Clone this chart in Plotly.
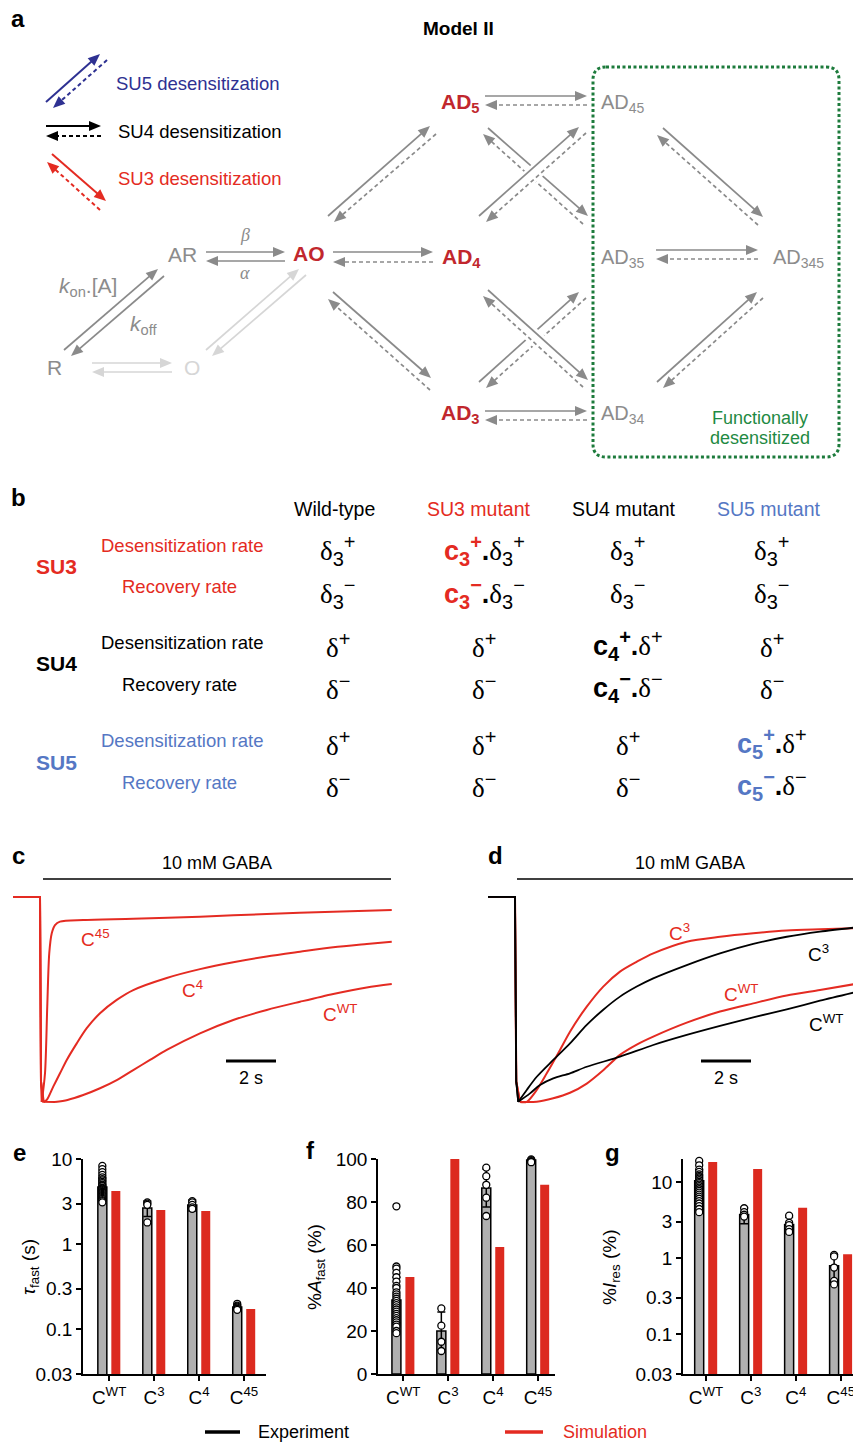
import math
import numpy as np
import plotly.graph_objects as go

W, H = 853, 1443
SANS = "Liberation Sans"
SERIF = "Liberation Serif"

# ---------------- data ----------------
# panel c : simulated currents (time s, normalized current)
c45_t = [-1.08, 0.0, 0.04, 0.07, 0.2, 0.29, 0.37, 0.47, 0.6, 0.8, 1.73, 3.73, 6.4, 9.07, 11.73, 14.07]
c45_v = [0, 0, -0.9, -1.0, -0.86, -0.535, -0.275, -0.177, -0.137, -0.12, -0.112, -0.106, -0.096, -0.083, -0.072, -0.063]
c4_t = [-1.08, 0.0, 0.04, 0.15, 0.27, 0.53, 0.8, 1.07, 1.47, 1.87, 2.4, 3.07, 3.73, 5.07, 6.4, 7.73, 9.07, 10.4, 11.73, 13.07, 14.07]
c4_v = [0, 0, -0.9, -1.0, -0.99, -0.925, -0.86, -0.795, -0.714, -0.64, -0.567, -0.502, -0.454, -0.395, -0.352, -0.318, -0.29, -0.267, -0.245, -0.229, -0.218]
cwt_t = [-1.08, 0.0, 0.04, 0.13, 0.6, 1.1, 1.73, 2.4, 3.07, 3.73, 4.4, 5.07, 6.4, 7.73, 9.07, 10.4, 11.73, 13.07, 14.07]
cwt_v = [0, 0, -0.9, -0.999, -1.0, -0.99, -0.966, -0.933, -0.893, -0.844, -0.795, -0.746, -0.665, -0.6, -0.551, -0.511, -0.473, -0.441, -0.424]

# panel d : simulation (red) vs experiment (black)
d_sim3_t = [-1.08, 0.0, 0.05, 0.2, 0.47, 0.87, 1.27, 1.8, 2.2, 2.87, 3.53, 4.2, 4.87, 5.53, 6.87, 8.2, 9.53, 10.87, 12.2, 13.53]
d_sim3_v = [0, 0, -0.9, -1.0, -0.999, -0.941, -0.86, -0.746, -0.657, -0.535, -0.437, -0.364, -0.316, -0.275, -0.218, -0.194, -0.177, -0.164, -0.158, -0.153]
d_simwt_t = [-1.08, 0.0, 0.05, 0.2, 0.87, 1.53, 2.2, 2.87, 3.53, 4.2, 4.87, 5.53, 6.87, 8.2, 9.53, 10.87, 12.2, 13.53]
d_simwt_v = [0, 0, -0.9, -1.0, -0.999, -0.982, -0.955, -0.91, -0.845, -0.77, -0.72, -0.681, -0.613, -0.559, -0.519, -0.481, -0.454, -0.426]
d_exp3_t = [-1.08, 0.0, 0.05, 0.13, 0.47, 0.87, 1.53, 2.2, 2.87, 3.53, 4.2, 4.87, 5.53, 6.87, 8.2, 9.53, 10.87, 12.2, 13.53]
d_exp3_v = [0, 0, -0.9, -0.999, -0.941, -0.877, -0.795, -0.714, -0.624, -0.55, -0.486, -0.437, -0.397, -0.332, -0.275, -0.229, -0.194, -0.169, -0.150]
d_expwt_t = [-1.08, 0.0, 0.05, 0.13, 0.6, 1.0, 1.53, 2.2, 2.87, 4.2, 5.53, 6.87, 8.2, 9.53, 10.87, 12.2, 13.53]
d_expwt_v = [0, 0, -0.9, -0.999, -0.958, -0.917, -0.885, -0.860, -0.828, -0.779, -0.722, -0.673, -0.629, -0.587, -0.548, -0.506, -0.467]

# bar panels
constructs = ["C<sup>WT</sup>", "C<sup>3</sup>", "C<sup>4</sup>", "C<sup>45</sup>"]

tau_exp = [4.7, 2.66, 2.88, 0.183]
tau_err = [1.3, 0.55, 0.42, 0.012]
tau_sim = [4.2, 2.52, 2.45, 0.174]
tau_pts = [
    [8.3, 7.6, 7.0, 6.5, 6.1, 5.8, 5.6, 5.4, 5.2, 5.0, 4.9, 4.8, 4.6, 4.5, 4.4, 4.3, 4.2, 4.1, 4.0, 3.9, 3.8, 3.7, 3.6, 3.5, 3.4, 3.3, 3.2, 3.1],
    [3.1, 3.0, 2.9, 1.8],
    [3.2, 3.1, 2.9, 2.7, 2.6],
    [0.2, 0.19, 0.185, 0.18, 0.175, 0.17],
]

afast_exp = [34.4, 20.0, 86.5, 99.5]
afast_err = [10.6, 8.8, 8.8, 0.4]
afast_sim = [45.1, 100.0, 59.1, 88.0]
afast_pts = [
    [78, 50, 49, 47, 45, 43, 41, 40, 38, 37, 36, 35, 34, 33, 32, 31, 30, 29, 28, 27, 26, 25, 24, 23, 22, 20, 19],
    [30.5, 22.5, 15, 10.7],
    [96, 92, 88, 82, 73.5],
    [99.8, 99.5, 99, 98.7, 98.5],
]

ires_exp = [10.3, 3.72, 2.75, 0.79]
ires_err = [4.0, 0.9, 0.65, 0.31]
ires_sim = [18.2, 14.8, 4.58, 1.12]
ires_pts = [
    [18.8, 16.5, 14.5, 13.5, 12.5, 12, 11.5, 11, 10.5, 10, 9.6, 9.2, 8.8, 8.4, 8, 7.6, 7.2, 6.8, 6.4, 6, 5.6, 5.2, 4.8, 4.4, 4.0],
    [4.5, 4.0, 3.7, 3.5],
    [3.6, 2.9, 2.7, 2.4, 2.2],
    [1.1, 1.05, 0.75, 0.5, 0.45],
]

# table (panel b)
col_headers = ["Wild-type", "SU3 mutant", "SU4 mutant", "SU5 mutant"]
subunits = ["SU3", "SU4", "SU5"]
rate_labels = ["Desensitization rate", "Recovery rate"]

# ---------------- styles ----------------
RED = "#e42b22"
BARRED = "#dc2a1f"
NRED = "#c1272d"
DBLUE = "#2e3192"
LBLUE = "#5577c4"
GREEN = "#1d7b3c"
GRAY = "#8a8a8a"
TGRAY = "#8c8c8c"
LGRAY = "#d6d6d6"

shapes = []
annots = []


def txt(x, y, text, size, color="black", anchor="center", family=SANS, angle=0, yanchor="middle"):
    annots.append(dict(x=x, y=y, xref="x", yref="y", text=text, showarrow=False,
                       font=dict(size=size, color=color, family=family),
                       xanchor=anchor, yanchor=yanchor, textangle=angle))


def line(x0, y0, x1, y1, color, width=1.7, dash="solid"):
    shapes.append(dict(type="line", x0=x0, y0=y0, x1=x1, y1=y1, xref="x", yref="y",
                       line=dict(color=color, width=width, dash=dash)))


def arrow(x0, y0, x1, y1, style, color, width=1.7, L=12, hw=5):
    dx, dy = x1 - x0, y1 - y0
    n = math.hypot(dx, dy)
    ux, uy = dx / n, dy / n
    bx, by = x1 - L * ux, y1 - L * uy
    px, py = -uy, ux
    dash = "solid" if style == "solid" else "4px,3px"
    line(x0, y0, bx + ux, by + uy, color, width, dash)
    path = (f"M{x1:.2f},{y1:.2f} L{bx + hw * px:.2f},{by + hw * py:.2f} "
            f"L{bx - hw * px:.2f},{by - hw * py:.2f} Z")
    shapes.append(dict(type="path", path=path, xref="x", yref="y",
                       fillcolor=color, line=dict(width=0)))


def halo(ax0, ay0, ax1, ay1, f0=0.33, f1=0.67, width=16):
    line(ax0 + (ax1 - ax0) * f0, ay0 + (ay1 - ay0) * f0,
         ax0 + (ax1 - ax0) * f1, ay0 + (ay1 - ay0) * f1, "white", width)


# ---------------- panel a ----------------
txt(18, 18, "<b>a</b>", 24)
txt(458, 28, "<b>Model II</b>", 19)

# legend arrows
arrow(46, 102, 100, 54, "solid", DBLUE, 2)
arrow(107, 60, 53, 108, "dash", DBLUE, 2)
arrow(46, 126, 101, 126, "solid", "black", 2)
arrow(101, 136, 46, 136, "dash", "black", 2)
arrow(52, 154, 106, 201, "solid", RED, 2)
arrow(100, 210, 47, 162, "dash", RED, 2)
txt(114, 83, "SU5 desensitization", 18.5, DBLUE, "left")
txt(116, 131, "SU4 desensitization", 18.5, "black", "left")
txt(116, 178, "SU3 desensitization", 18.5, RED, "left")

# green box
x0b, x1b, y0b, y1b, r = 593, 839, 67, 457, 13
shapes.append(dict(type="path", xref="x", yref="y",
                   path=(f"M{x0b + r},{y0b} L{x1b - r},{y0b} Q{x1b},{y0b} {x1b},{y0b + r} "
                         f"L{x1b},{y1b - r} Q{x1b},{y1b} {x1b - r},{y1b} L{x0b + r},{y1b} "
                         f"Q{x0b},{y1b} {x0b},{y1b - r} L{x0b},{y0b + r} Q{x0b},{y0b} {x0b + r},{y0b} Z"),
                   line=dict(color=GREEN, width=3, dash="3px,2.5px")))
txt(760, 418, "Functionally", 18, "#1f8a43")
txt(760, 438, "desensitized", 18, "#1f8a43")

# scheme arrows
arrow(64, 350, 158, 269, "solid", GRAY)
arrow(164, 276, 71, 356, "solid", GRAY)
arrow(206, 252, 285, 252, "solid", GRAY)
arrow(285, 261, 206, 261, "solid", GRAY)
arrow(92, 363, 172, 363, "solid", LGRAY)
arrow(172, 372, 92, 372, "solid", LGRAY)
arrow(206, 350, 299, 269, "solid", LGRAY)
arrow(306, 275, 212, 356, "solid", LGRAY)
arrow(333, 252, 433, 252, "solid", GRAY)
arrow(433, 262, 333, 262, "dash", GRAY)
arrow(328, 216, 430, 126, "solid", GRAY)
arrow(436, 134, 334, 222, "dash", GRAY)
arrow(333, 292, 431, 378, "solid", GRAY)
arrow(430, 390, 328, 299, "dash", GRAY)
arrow(485, 96, 587, 96, "solid", GRAY)
arrow(587, 105, 485, 105, "dash", GRAY)
arrow(485, 411, 587, 411, "solid", GRAY)
arrow(587, 420, 485, 420, "dash", GRAY)
# broken crossing arrows
arrow(488, 128, 588, 216, "solid", GRAY)
arrow(583, 224, 483, 134, "dash", GRAY)
arrow(479, 382, 579, 292, "solid", GRAY)
arrow(586, 298, 486, 388, "dash", GRAY)
halo(482.5, 219, 582.5, 130)
halo(485.5, 293, 585.5, 383.5)
# continuous crossing arrows
arrow(479, 216, 579, 127, "solid", GRAY)
arrow(586, 133, 486, 222, "dash", GRAY)
arrow(488, 290, 588, 380, "solid", GRAY)
arrow(583, 387, 483, 296, "dash", GRAY)
# inside the box
arrow(656, 250, 758, 250, "solid", GRAY)
arrow(758, 259, 656, 259, "dash", GRAY)
arrow(663, 128, 763, 217, "solid", GRAY)
arrow(758, 225, 657, 135, "dash", GRAY)
arrow(657, 382, 757, 292, "solid", GRAY)
arrow(763, 298, 663, 388, "dash", GRAY)

# states
txt(54, 367, "R", 21, TGRAY)
txt(192, 367, "O", 21, LGRAY)
txt(182, 254, "AR", 21, TGRAY)
txt(309, 253, "<b>AO</b>", 21, NRED)
txt(461, 258, "<b>AD<sub>4</sub></b>", 21, NRED)
txt(460, 103, "<b>AD<sub>5</sub></b>", 21, NRED)
txt(460, 414, "<b>AD<sub>3</sub></b>", 21, NRED)
txt(623, 103, "AD<sub>45</sub>", 20, TGRAY)
txt(623, 258, "AD<sub>35</sub>", 20, TGRAY)
txt(623, 414, "AD<sub>34</sub>", 20, TGRAY)
txt(798, 258, "AD<sub>345</sub>", 20, TGRAY)
txt(245, 235, "<i>β</i>", 18, TGRAY, family=SERIF)
txt(245, 273, "<i>α</i>", 18, TGRAY, family=SERIF)
txt(88, 287, "<i>k</i><sub>on</sub>.[A]", 21, TGRAY)
txt(143, 325, "<i>k</i><sub>off</sub>", 21, TGRAY)

# ---------------- panel b ----------------
txt(18, 497, "<b>b</b>", 24)
hdr_x = [334, 479, 624, 769]
hdr_col = ["black", RED, "black", LBLUE]
for hx, hc, ht in zip(hdr_x, hdr_col, col_headers):
    txt(hx, 509, ht, 19.5, hc)

su_col = [RED, "black", LBLUE]
su_y = [566, 663, 762]
rate_y = [(545, 586), (642, 684), (740, 782)]
for s, c, sy, (ry1, ry2) in zip(subunits, su_col, su_y, rate_y):
    txt(56, sy, f"<b>{s}</b>", 21, c)
    txt(182, ry1, rate_labels[0], 18.5, c)
    txt(179, ry2, rate_labels[1], 18.5, c)

SS = "font-family:Liberation Sans;font-size:20px"


def d(sub, sign):
    s = f'<sub><span style="{SS}">{sub}</span></sub>' if sub else ""
    return f'δ{s}<sup><span style="{SS}">{sign}</span></sup>'


def mut(col, n, sign, base):
    return (f'<span style="font-family:Liberation Sans;font-weight:bold;color:{col}">'
            f'c<sub><span style="font-size:20px">{n}</span></sub>'
            f'<sup><span style="font-size:20px">{sign}</span></sup></span>'
            f'<span style="font-family:Liberation Sans;font-weight:bold">.</span>{base}')


wt_vals = [d("3", "+"), d("3", "−"), d("", "+"), d("", "−"), d("", "+"), d("", "−")]
su3_vals = [mut(RED, 3, "+", d("3", "+")), mut(RED, 3, "−", d("3", "−")),
            d("", "+"), d("", "−"), d("", "+"), d("", "−")]
su4_vals = [d("3", "+"), d("3", "−"), mut("black", 4, "+", d("", "+")),
            mut("black", 4, "−", d("", "−")), d("", "+"), d("", "−")]
su5_vals = [d("3", "+"), d("3", "−"), d("", "+"), d("", "−"),
            mut(LBLUE, 5, "+", d("", "+")), mut(LBLUE, 5, "−", d("", "−"))]
val_x = [338, 484, 628, 772]
val_y = [550, 593, 645, 687, 743, 785]
for vx, col in zip(val_x, [wt_vals, su3_vals, su4_vals, su5_vals]):
    for vy, v in zip(val_y, col):
        txt(vx, vy, v, 27, "black", family=SERIF)

# ---------------- panels c, d decorations ----------------
txt(18, 855, "<b>c</b>", 24)
txt(495, 855, "<b>d</b>", 24)
line(43, 879, 391, 879, "black", 1.5)
line(517, 879, 853, 879, "black", 1.5)
txt(217, 863, "10 mM GABA", 18)
txt(690, 863, "10 mM GABA", 18)
txt(251, 1078, "2 s", 18)
txt(726, 1078, "2 s", 18)
txt(95, 938, "C<sup>45</sup>", 19, RED)
txt(192, 989, "C<sup>4</sup>", 19, RED)
txt(340, 1013, "C<sup>WT</sup>", 19, RED)
txt(679, 932, "C<sup>3</sup>", 19, RED)
txt(741, 993, "C<sup>WT</sup>", 19, RED)
txt(818, 953, "C<sup>3</sup>", 19, "black")
txt(826, 1023, "C<sup>WT</sup>", 19, "black")

# ---------------- panels e, f, g labels ----------------
txt(19, 1152, "<b>e</b>", 24)
txt(310, 1150, "<b>f</b>", 24)
txt(612, 1152, "<b>g</b>", 24)
txt(30, 1267, "<i>τ</i><sub>fast</sub> (s)", 19, angle=-90)
txt(316, 1267, "%<i>A</i><sub>fast</sub> (%)", 19, angle=-90)
txt(611, 1267, "%<i>I</i><sub>res</sub> (%)", 19, angle=-90)

# bottom legend
line(205, 1432, 240, 1432, "black", 3.5)
line(505, 1432, 543, 1432, RED, 3.5)
txt(256, 1432, "Experiment", 18, "black", "left")
txt(561, 1432, "Simulation", 18, RED, "left")

# ---------------- figure ----------------
fig = go.Figure()
fig.add_trace(go.Scatter(x=[0], y=[0], mode="markers", marker=dict(opacity=0),
                         xaxis="x", yaxis="y", hoverinfo="skip"))


def trace(t, v, color, width, xa, ya):
    k = int(np.argmin(v))
    fig.add_trace(go.Scatter(x=t[:k + 1], y=v[:k + 1], mode="lines",
                             line=dict(color=color, width=width), xaxis=xa, yaxis=ya))
    fig.add_trace(go.Scatter(x=t[k:], y=v[k:], mode="lines",
                             line=dict(color=color, width=width, shape="spline", smoothing=0.8),
                             xaxis=xa, yaxis=ya))


for t, v in [(cwt_t, cwt_v), (c4_t, c4_v), (c45_t, c45_v)]:
    trace(t, v, RED, 2, "x2", "y2")
for t, v in [(d_simwt_t, d_simwt_v), (d_sim3_t, d_sim3_v)]:
    trace(t, v, RED, 2, "x3", "y3")
for t, v in [(d_expwt_t, d_expwt_v), (d_exp3_t, d_exp3_v)]:
    trace(t, v, "black", 1.8, "x3", "y3")

# scale bars (2 s) in data coordinates
for xr, yr in [("x2", "y2"), ("x3", "y3")]:
    shapes.append(dict(type="line", xref=xr, yref=yr, x0=7.44, x1=9.44, y0=-0.8, y1=-0.8,
                       line=dict(color="black", width=3)))

grp = np.arange(4)
OFF = 0.15


def bars(exp, err, sim, pts, xa, ya, logy):
    lo = [min(e * 0.9, er) for e, er in zip(exp, err)] if logy else err
    fig.add_trace(go.Bar(x=grp + OFF, y=sim, width=0.2, marker=dict(color=BARRED, line=dict(width=0)),
                         xaxis=xa, yaxis=ya))
    fig.add_trace(go.Bar(x=grp - OFF, y=exp, width=0.2,
                         marker=dict(color="#b0b0b0", line=dict(color="black", width=1.5)),
                         error_y=dict(type="data", array=err, arrayminus=lo, color="black",
                                      thickness=1.5, width=4),
                         xaxis=xa, yaxis=ya))
    xs, ys = [], []
    for i, p in enumerate(pts):
        xs += [i - OFF] * len(p)
        ys += p
    fig.add_trace(go.Scatter(x=xs, y=ys, mode="markers", cliponaxis=False,
                             marker=dict(symbol="circle", size=7, color="white",
                                         line=dict(color="black", width=1.3)),
                             xaxis=xa, yaxis=ya))


bars(tau_exp, tau_err, tau_sim, tau_pts, "x4", "y4", True)
bars(afast_exp, afast_err, afast_sim, afast_pts, "x5", "y5", False)
bars(ires_exp, ires_err, ires_sim, ires_pts, "x6", "y6", True)


def dx(a, b):
    return [a / W, b / W]


def dy(top, bottom):
    return [1 - bottom / H, 1 - top / H]


tickfont = dict(size=19, family=SANS, color="black")
xcat = dict(showline=True, linecolor="black", linewidth=1.5, ticks="outside", ticklen=5,
            tickwidth=1.5, tickcolor="black", tickvals=list(grp), ticktext=constructs,
            tickfont=tickfont, showgrid=False, zeroline=False, fixedrange=True,
            ticklabeloverflow="allow")
yax = dict(showline=True, linecolor="black", linewidth=1.5, ticks="outside", ticklen=5,
           tickwidth=1.5, tickcolor="black", tickfont=tickfont, showgrid=False,
           zeroline=False, fixedrange=True)

fig.update_layout(
    width=W, height=H, autosize=False,
    margin=dict(l=0, r=0, t=0, b=0, pad=0, autoexpand=False), showlegend=False,
    paper_bgcolor="white", plot_bgcolor="rgba(0,0,0,0)", barmode="overlay",
    font=dict(family=SANS, color="black"),
    xaxis=dict(domain=[0, 1], range=[0, W], visible=False, fixedrange=True),
    yaxis=dict(domain=[0, 1], range=[H, 0], visible=False, fixedrange=True),
    xaxis2=dict(domain=dx(12, 393), range=[-1.12, 14.12], visible=False, anchor="y2"),
    yaxis2=dict(domain=dy(890, 1110), range=[-1.039, 0.034], visible=False, anchor="x2"),
    xaxis3=dict(domain=dx(485, 853), range=[-1.2, 13.52], visible=False, anchor="y3"),
    yaxis3=dict(domain=dy(890, 1110), range=[-1.039, 0.034], visible=False, anchor="x3"),
    xaxis4=dict(xcat, domain=dx(83, 266), range=[-0.58, 3.49], anchor="y4"),
    yaxis4=dict(yax, domain=dy(1159, 1374), type="log", range=[math.log10(0.03), 1],
                tickvals=[0.03, 0.1, 0.3, 1, 3, 10], ticktext=["0.03", "0.1", "0.3", "1", "3", "10"],
                anchor="x4"),
    xaxis5=dict(xcat, domain=dx(378, 555), range=[-0.56, 3.38], anchor="y5"),
    yaxis5=dict(yax, domain=dy(1159, 1374), range=[0, 100], tickvals=[0, 20, 40, 60, 80, 100],
                anchor="x5"),
    xaxis6=dict(xcat, domain=dx(683, 853), range=[-0.51, 3.27], anchor="y6"),
    yaxis6=dict(yax, domain=dy(1159, 1374), type="log", range=[math.log10(0.03), 1.30],
                tickvals=[0.03, 0.1, 0.3, 1, 3, 10], ticktext=["0.03", "0.1", "0.3", "1", "3", "10"],
                anchor="x6"),
    shapes=shapes, annotations=annots,
)

fig.write_html(
    "out.html",
    config={"displayModeBar": False},
    post_script=("document.documentElement.style.margin='0';"
                 "document.documentElement.style.padding='0';"
                 "document.documentElement.style.overflow='hidden';"
                 "document.body.style.margin='0';document.body.style.padding='0';"
                 "document.body.style.overflow='hidden';"),
)
